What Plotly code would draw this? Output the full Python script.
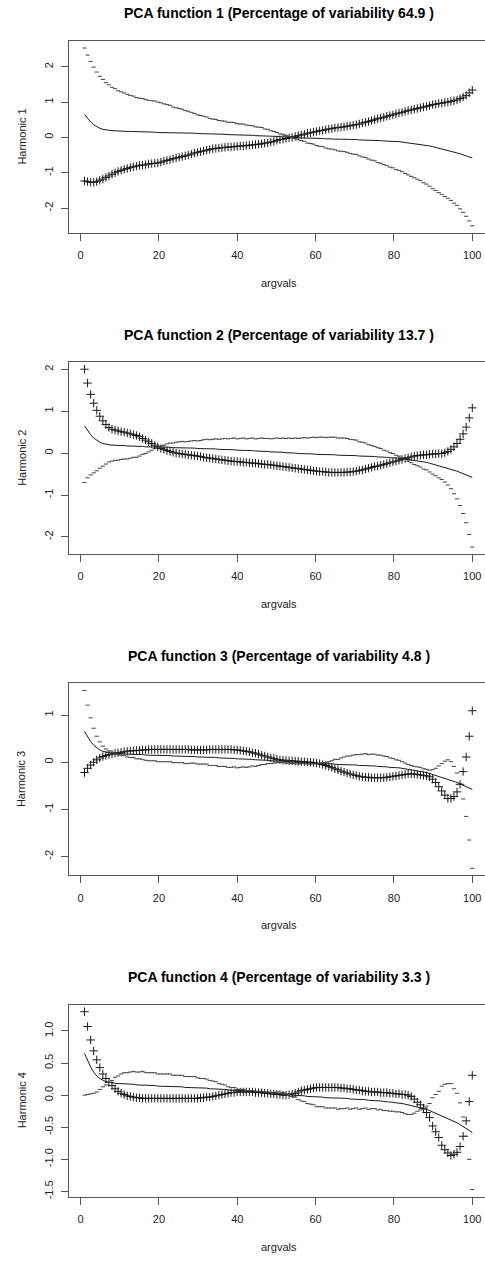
import plotly.graph_objects as go

# evaluation grid (128 points from 1 to 100)
argvals = [
    1.00, 1.78, 2.56, 3.34, 4.12, 4.90, 5.68, 6.46, 7.24, 8.02, 8.80, 9.57, 10.35, 11.13, 11.91, 12.69,
    13.47, 14.25, 15.03, 15.81, 16.59, 17.37, 18.15, 18.93, 19.71, 20.49, 21.27, 22.05, 22.83, 23.61, 24.39, 25.17,
    25.94, 26.72, 27.50, 28.28, 29.06, 29.84, 30.62, 31.40, 32.18, 32.96, 33.74, 34.52, 35.30, 36.08, 36.86, 37.64,
    38.42, 39.20, 39.98, 40.76, 41.54, 42.31, 43.09, 43.87, 44.65, 45.43, 46.21, 46.99, 47.77, 48.55, 49.33, 50.11,
    50.89, 51.67, 52.45, 53.23, 54.01, 54.79, 55.57, 56.35, 57.13, 57.91, 58.69, 59.46, 60.24, 61.02, 61.80, 62.58,
    63.36, 64.14, 64.92, 65.70, 66.48, 67.26, 68.04, 68.82, 69.60, 70.38, 71.16, 71.94, 72.72, 73.50, 74.28, 75.06,
    75.83, 76.61, 77.39, 78.17, 78.95, 79.73, 80.51, 81.29, 82.07, 82.85, 83.63, 84.41, 85.19, 85.97, 86.75, 87.54,
    88.31, 89.09, 89.87, 90.65, 91.43, 92.20, 92.98, 93.76, 94.54, 95.32, 96.10, 96.88, 97.66, 98.44, 99.22, 100.00,
]

# mean function (solid line, same in every panel)
mean_curve = [
    0.65, 0.54, 0.44, 0.36, 0.30, 0.26, 0.23, 0.21, 0.20, 0.19, 0.19, 0.18, 0.18, 0.18, 0.17, 0.17,
    0.17, 0.16, 0.16, 0.16, 0.15, 0.15, 0.15, 0.15, 0.14, 0.14, 0.14, 0.14, 0.14, 0.13, 0.13, 0.13,
    0.13, 0.12, 0.12, 0.12, 0.12, 0.11, 0.11, 0.11, 0.11, 0.10, 0.10, 0.10, 0.09, 0.09, 0.09, 0.08,
    0.08, 0.08, 0.07, 0.07, 0.07, 0.06, 0.06, 0.06, 0.05, 0.05, 0.05, 0.04, 0.04, 0.03, 0.03, 0.03,
    0.02, 0.02, 0.01, 0.01, 0.00, 0.00, -0.01, -0.01, -0.01, -0.02, -0.02, -0.02, -0.03, -0.03, -0.03, -0.04,
    -0.04, -0.04, -0.04, -0.05, -0.05, -0.05, -0.05, -0.06, -0.06, -0.06, -0.07, -0.07, -0.07, -0.08, -0.08, -0.08,
    -0.09, -0.09, -0.10, -0.10, -0.11, -0.11, -0.12, -0.12, -0.13, -0.14, -0.15, -0.16, -0.17, -0.18, -0.19, -0.21,
    -0.22, -0.24, -0.26, -0.28, -0.30, -0.32, -0.34, -0.36, -0.38, -0.41, -0.43, -0.46, -0.49, -0.52, -0.55, -0.58,
]

# mean + harmonic k ("+" points); the "-" points are mean - harmonic k
plus_pc1 = [
    -1.23, -1.25, -1.27, -1.27, -1.25, -1.21, -1.18, -1.13, -1.09, -1.04, -1.00, -0.96, -0.93, -0.90, -0.88, -0.85,
    -0.83, -0.81, -0.79, -0.78, -0.77, -0.75, -0.74, -0.73, -0.72, -0.70, -0.67, -0.65, -0.63, -0.60, -0.58, -0.56,
    -0.54, -0.52, -0.50, -0.47, -0.44, -0.42, -0.40, -0.38, -0.36, -0.34, -0.32, -0.31, -0.30, -0.29, -0.28, -0.27,
    -0.27, -0.26, -0.25, -0.24, -0.24, -0.23, -0.22, -0.21, -0.20, -0.19, -0.18, -0.16, -0.15, -0.13, -0.11, -0.08,
    -0.06, -0.05, -0.03, -0.01, 0.00, 0.03, 0.05, 0.07, 0.09, 0.12, 0.13, 0.15, 0.17, 0.19, 0.20, 0.22,
    0.24, 0.25, 0.27, 0.28, 0.29, 0.30, 0.32, 0.33, 0.35, 0.36, 0.38, 0.41, 0.43, 0.45, 0.48, 0.50,
    0.53, 0.55, 0.57, 0.60, 0.62, 0.64, 0.67, 0.69, 0.71, 0.74, 0.76, 0.78, 0.80, 0.82, 0.84, 0.86,
    0.88, 0.90, 0.93, 0.94, 0.96, 0.97, 0.99, 1.00, 1.02, 1.04, 1.06, 1.10, 1.14, 1.19, 1.26, 1.34,
]
plus_pc2 = [
    2.00, 1.67, 1.40, 1.19, 1.02, 0.88, 0.77, 0.68, 0.61, 0.57, 0.55, 0.53, 0.51, 0.50, 0.48, 0.46,
    0.44, 0.42, 0.39, 0.35, 0.31, 0.27, 0.23, 0.19, 0.15, 0.11, 0.09, 0.06, 0.04, 0.02, 0.00, -0.01,
    -0.02, -0.03, -0.04, -0.05, -0.06, -0.07, -0.08, -0.10, -0.11, -0.12, -0.13, -0.14, -0.15, -0.16, -0.17, -0.18,
    -0.19, -0.20, -0.20, -0.21, -0.22, -0.22, -0.23, -0.24, -0.24, -0.25, -0.26, -0.27, -0.27, -0.28, -0.29, -0.30,
    -0.31, -0.32, -0.33, -0.34, -0.35, -0.36, -0.37, -0.38, -0.39, -0.40, -0.41, -0.42, -0.43, -0.44, -0.44, -0.45,
    -0.46, -0.46, -0.46, -0.46, -0.46, -0.46, -0.45, -0.45, -0.44, -0.43, -0.41, -0.40, -0.38, -0.36, -0.34, -0.32,
    -0.31, -0.29, -0.27, -0.25, -0.23, -0.21, -0.19, -0.17, -0.15, -0.13, -0.11, -0.09, -0.07, -0.06, -0.05, -0.04,
    -0.04, -0.03, -0.02, -0.02, -0.01, -0.01, 0.01, 0.04, 0.09, 0.15, 0.23, 0.33, 0.46, 0.62, 0.84, 1.08,
]
plus_pc3 = [
    -0.22, -0.13, -0.06, 0.00, 0.05, 0.09, 0.12, 0.14, 0.16, 0.17, 0.19, 0.20, 0.21, 0.22, 0.23, 0.24,
    0.24, 0.25, 0.25, 0.26, 0.26, 0.27, 0.27, 0.27, 0.27, 0.27, 0.27, 0.27, 0.27, 0.27, 0.27, 0.27,
    0.27, 0.27, 0.27, 0.26, 0.26, 0.26, 0.26, 0.26, 0.26, 0.27, 0.27, 0.27, 0.27, 0.27, 0.27, 0.27,
    0.27, 0.26, 0.26, 0.25, 0.24, 0.23, 0.22, 0.20, 0.19, 0.17, 0.15, 0.13, 0.11, 0.09, 0.08, 0.06,
    0.05, 0.04, 0.04, 0.03, 0.03, 0.02, 0.02, 0.01, 0.01, 0.00, 0.00, -0.01, -0.02, -0.03, -0.05, -0.07,
    -0.09, -0.11, -0.14, -0.16, -0.19, -0.21, -0.23, -0.25, -0.27, -0.28, -0.30, -0.31, -0.32, -0.32, -0.33, -0.33,
    -0.33, -0.33, -0.33, -0.32, -0.31, -0.30, -0.29, -0.28, -0.27, -0.26, -0.25, -0.25, -0.25, -0.26, -0.27, -0.28,
    -0.29, -0.31, -0.36, -0.43, -0.52, -0.61, -0.70, -0.77, -0.77, -0.73, -0.63, -0.47, -0.20, 0.11, 0.55, 1.09,
]
plus_pc4 = [
    1.30, 1.07, 0.86, 0.69, 0.55, 0.43, 0.33, 0.26, 0.20, 0.15, 0.10, 0.06, 0.03, 0.01, -0.01, -0.02,
    -0.03, -0.04, -0.04, -0.05, -0.05, -0.05, -0.05, -0.05, -0.05, -0.05, -0.05, -0.05, -0.05, -0.05, -0.05, -0.05,
    -0.05, -0.05, -0.05, -0.05, -0.05, -0.05, -0.04, -0.04, -0.03, -0.03, -0.02, -0.01, 0.00, 0.01, 0.02, 0.03,
    0.04, 0.04, 0.05, 0.05, 0.05, 0.05, 0.05, 0.05, 0.04, 0.04, 0.04, 0.03, 0.03, 0.02, 0.02, 0.01,
    0.01, 0.00, 0.00, 0.01, 0.02, 0.03, 0.05, 0.07, 0.08, 0.09, 0.10, 0.11, 0.12, 0.12, 0.12, 0.12,
    0.12, 0.12, 0.12, 0.12, 0.11, 0.11, 0.10, 0.10, 0.09, 0.08, 0.08, 0.07, 0.06, 0.06, 0.05, 0.05,
    0.05, 0.04, 0.04, 0.04, 0.03, 0.03, 0.02, 0.02, 0.01, 0.01, 0.00, -0.02, -0.06, -0.11, -0.15, -0.20,
    -0.27, -0.35, -0.48, -0.57, -0.66, -0.78, -0.85, -0.90, -0.94, -0.92, -0.89, -0.80, -0.64, -0.40, -0.10, 0.31,
]

plus_series = [plus_pc1, plus_pc2, plus_pc3, plus_pc4]
variability = ["64.9", "13.7", "4.8", "3.3"]
x_tick_vals = [0, 20, 40, 60, 80, 100]
y_tick_vals = [
    [-2, -1, 0, 1, 2],
    [-2, -1, 0, 1, 2],
    [-2, -1, 0, 1],
    [-1.5, -1.0, -0.5, 0.0, 0.5, 1.0],
]
y_tick_text = [
    ["-2", "-1", "0", "1", "2"],
    ["-2", "-1", "0", "1", "2"],
    ["-2", "-1", "0", "1"],
    ["-1.5", "-1.0", "-0.5", "0.0", "0.5", "1.0"],
]

# ---------------- layout geometry (pixels) ----------------
W, H = 485, 1261
LEFT = 69
BOX_TOPS = [41, 363, 685, 1007]
BOX_H = 192.5
PX_PER_X = 3.917
FONT = "Liberation Sans, Arial, sans-serif"
AXC = "#555555"
TXT = "#222222"

fig = go.Figure()
layout = dict(
    width=W, height=H, margin=dict(l=0, r=0, t=0, b=0),
    paper_bgcolor="white", plot_bgcolor="white", showlegend=False,
    font=dict(family=FONT, size=11, color=TXT),
)
annotations = []

xmin_d, xmax_d = min(argvals), max(argvals)
x_lo = xmin_d - 0.04 * (xmax_d - xmin_d)
x_hi = x_lo + (W - LEFT) / PX_PER_X

for k in range(4):
    plus = plus_series[k]
    minus = [2 * m - p for m, p in zip(mean_curve, plus)]
    allv = mean_curve + plus + minus
    lo, hi = min(allv), max(allv)
    pad = 0.04 * (hi - lo)
    xa = "x" if k == 0 else f"x{k+1}"
    ya = "y" if k == 0 else f"y{k+1}"

    fig.add_trace(go.Scatter(x=argvals, y=mean_curve, mode="lines",
                             line=dict(color="#1a1a1a", width=1),
                             xaxis=xa, yaxis=ya, hoverinfo="skip"))
    fig.add_trace(go.Scatter(x=argvals, y=plus, mode="markers",
                             marker=dict(symbol="cross-thin", size=6,
                                         line=dict(color="#1a1a1a", width=1)),
                             xaxis=xa, yaxis=ya, hoverinfo="skip"))
    fig.add_trace(go.Scatter(x=argvals, y=minus, mode="markers",
                             marker=dict(symbol="line-ew", size=3,
                                         line=dict(color="#444444", width=1)),
                             xaxis=xa, yaxis=ya, hoverinfo="skip"))

    top = BOX_TOPS[k]
    bot = top + BOX_H
    xkey = "xaxis" if k == 0 else f"xaxis{k+1}"
    ykey = "yaxis" if k == 0 else f"yaxis{k+1}"
    layout[xkey] = dict(
        domain=[LEFT / W, 1], range=[x_lo, x_hi], anchor=ya,
        tickmode="array", tickvals=x_tick_vals,
        ticks="outside", ticklen=7, tickcolor=AXC, tickwidth=1,
        showline=True, linecolor=AXC, linewidth=1, mirror=True,
        showgrid=False, zeroline=False, ticklabelstandoff=5,
        tickfont=dict(family=FONT, size=11, color=TXT),
    )
    layout[ykey] = dict(
        domain=[1 - bot / H, 1 - top / H], range=[lo - pad, hi + pad], anchor=xa,
        tickmode="array", tickvals=y_tick_vals[k], ticktext=y_tick_text[k],
        ticks="outside", ticklen=7, tickcolor=AXC, tickwidth=1, tickangle=-90,
        showline=True, linecolor=AXC, linewidth=1, mirror=False,
        showgrid=False, zeroline=False, ticklabelstandoff=4,
        tickfont=dict(family=FONT, size=11, color=TXT),
    )

    annotations.append(dict(
        text=f"<b>PCA function {k+1} (Percentage of variability {variability[k]} )</b>",
        x=278.5 / W, y=1 - (top - 27.7) / H, xref="paper", yref="paper",
        xanchor="center", yanchor="middle", showarrow=False,
        font=dict(family=FONT, size=14, color="#000000")))
    annotations.append(dict(
        text="argvals", x=279 / W, y=1 - (bot + 50) / H, xref="paper", yref="paper",
        xanchor="center", yanchor="middle", showarrow=False,
        font=dict(family=FONT, size=11, color=TXT)))
    annotations.append(dict(
        text=f"Harmonic {k+1}", x=21.7 / W, y=1 - (top + BOX_H / 2) / H,
        xref="paper", yref="paper", xanchor="center", yanchor="middle",
        textangle=-90, showarrow=False,
        font=dict(family=FONT, size=11, color=TXT)))

layout["annotations"] = annotations
fig.update_layout(**layout)
fig.write_html("out.html")
